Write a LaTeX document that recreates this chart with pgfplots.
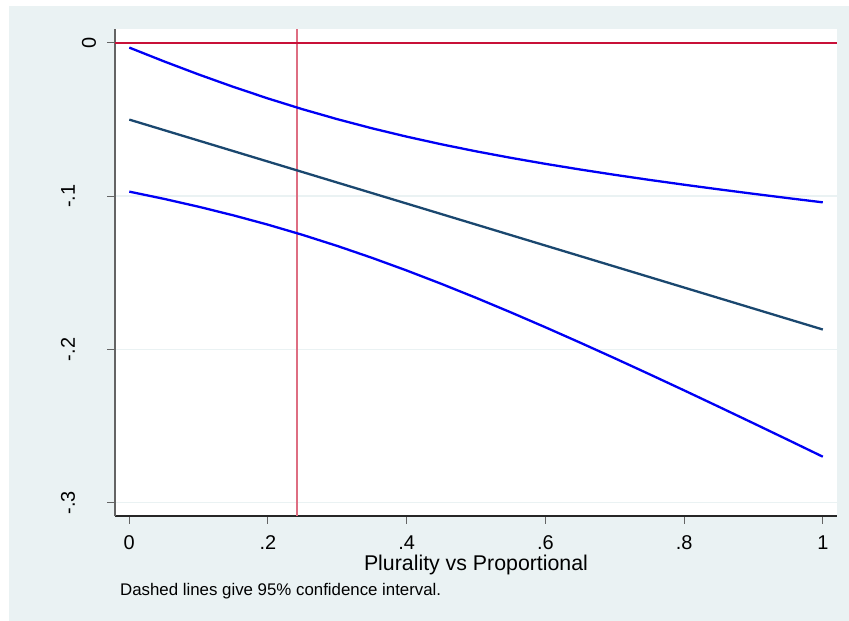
\documentclass[border=0pt]{standalone}
\usepackage{fontspec}
\setmainfont{Liberation Sans}
\usepackage{pgfplots}
\pgfplotsset{compat=1.18}
\definecolor{bgc}{RGB}{234,242,243}
\definecolor{navyS}{RGB}{26,71,111}
\definecolor{cranb}{RGB}{200,16,56}
\definecolor{pinkl}{RGB}{222,110,130}
\definecolor{axg}{RGB}{100,100,100}
\definecolor{ciblue}{RGB}{0,0,245}
\begin{document}
\begin{tikzpicture}[x=1bp,y=1bp]
\useasboundingbox (-115,-105) rectangle (734,516);
\fill[white] (-115,-105) rectangle (734,516);
\fill[bgc] (-106,-105) rectangle (734,510);
\begin{axis}[
  at={(0,0)}, anchor=south west,
  scale only axis, width=722bp, height=487bp,
  xmin=-0.0206, xmax=1.0205, ymin=-0.3087, ymax=0.00914,
  axis background/.style={fill=white},
  axis x line*=bottom, axis y line*=left,
  axis line style={-, line width=1.2bp},
  x axis line style={black!85},
  y axis line style={axg},
  xtick={0,0.2,0.4,0.6,0.8,1}, xticklabels={0,.2,.4,.6,.8,1},
  ytick={-0.3,-0.2,-0.1}, yticklabels={-.3,-.2,-.1},
  extra y ticks={0}, extra y tick labels={0},
  extra y tick style={yticklabel style={yshift=-21bp}},
  tick align=outside, major tick length=8bp,
  tick style={axg, line width=1bp},
  ymajorgrids, grid style={bgc, line width=1.5bp},
  ticklabel style={font=\fontsize{20}{21}\selectfont},
  xticklabel style={anchor=base, yshift=-25.3bp},
  yticklabel style={rotate=90, anchor=center, yshift=39bp},
  xlabel={Plurality vs Proportional},
  xlabel style={font=\fontsize{21.4}{22}\selectfont, at={(axis description cs:0.5,0)}, anchor=base, yshift=-54.7bp},
  clip=false,
]
\addplot[pinkl, line width=1.6bp] coordinates {(0.2417,-0.3087) (0.2417,0.00914)};
\addplot[cranb, line width=2.6bp] coordinates {(-0.0206,0) (1.0205,0)};
\addplot[navyS, line width=2.3bp] coordinates {(0,-0.05) (1,-0.187)};
\addplot[ciblue, line width=2.3bp] coordinates {
(0,-0.0030) (0.05,-0.01198) (0.1,-0.02054) (0.15,-0.02863) (0.2,-0.03621)
(0.25,-0.04325) (0.3,-0.04973) (0.35,-0.05568) (0.4,-0.06112) (0.45,-0.06611)
(0.5,-0.0707) (0.55,-0.07493) (0.6,-0.07887) (0.65,-0.08256) (0.7,-0.08604)
(0.75,-0.08934) (0.8,-0.09249) (0.85,-0.09551) (0.9,-0.09842) (0.95,-0.10125) (1,-0.104)};
\addplot[ciblue, line width=2.3bp] coordinates {
(0,-0.0970) (0.05,-0.10172) (0.1,-0.10686) (0.15,-0.11247) (0.2,-0.11859)
(0.25,-0.12525) (0.3,-0.13247) (0.35,-0.14022) (0.4,-0.14848) (0.45,-0.15719)
(0.5,-0.1663) (0.55,-0.17577) (0.6,-0.18553) (0.65,-0.19554) (0.7,-0.20576)
(0.75,-0.21616) (0.8,-0.22671) (0.85,-0.23739) (0.9,-0.24818) (0.95,-0.25905) (1,-0.270)};
\end{axis}
\node[anchor=base west, inner sep=0pt, font=\fontsize{16.9}{18}\selectfont] at (5,-79.7) {Dashed lines give 95\% confidence interval.};
\end{tikzpicture}
\end{document}
